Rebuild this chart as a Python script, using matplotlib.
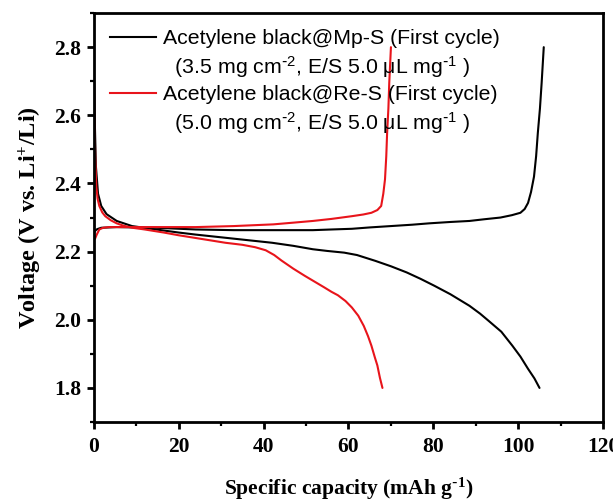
import matplotlib
matplotlib.use("Agg")
import matplotlib.pyplot as plt
from matplotlib.lines import Line2D
from matplotlib.ticker import MultipleLocator

plt.rcParams['mathtext.default'] = 'regular'

# Black: Acetylene black@Mp-S (discharge and charge)
mp_dis_x = [0.0, 0.2, 0.5, 1.0, 1.75, 3.0, 5.4, 9.0, 14.7, 20, 24, 33, 42, 47, 51.6, 55, 59, 62,
            66.3, 70, 73.7, 77, 80.2, 84, 88.5, 91, 93, 96, 98.6, 100.5, 102.3, 103.8, 105]
mp_dis_y = [2.75, 2.60, 2.45, 2.37, 2.334, 2.31, 2.29, 2.275, 2.265, 2.256, 2.25, 2.238, 2.226,
            2.217, 2.207, 2.202, 2.197, 2.19, 2.173, 2.157, 2.139, 2.12, 2.10, 2.075, 2.041,
            2.018, 1.997, 1.965, 1.924, 1.892, 1.856, 1.828, 1.80]
mp_chg_x = [0.0, 0.4, 0.8, 1.75, 5.4, 14.7, 24, 33, 42, 51.6, 56, 60.8, 65, 70, 75, 79, 84, 88.5,
            92, 95.8, 98.5, 100.5, 101.5, 102.3, 103, 103.7, 104.2, 104.6, 105.1, 105.5, 106]
mp_chg_y = [2.255, 2.262, 2.266, 2.27, 2.272, 2.27, 2.265, 2.263, 2.263, 2.263, 2.265, 2.267,
            2.271, 2.275, 2.279, 2.283, 2.287, 2.29, 2.295, 2.30, 2.307, 2.314, 2.325, 2.343,
            2.375, 2.42, 2.48, 2.548, 2.62, 2.695, 2.80]

# Red: Acetylene black@Re-S (discharge and charge)
re_dis_x = [0.0, 0.15, 0.35, 0.6, 0.9, 1.3, 2.0, 2.7, 4.0, 5.4, 7.0, 9.1, 12, 16.5, 20, 24, 28,
            31, 35, 38, 40.5, 42.5, 44.2, 47, 49.7, 52, 54.3, 56, 57.5, 59.3, 60.8, 62.3, 63.6,
            64.6, 65.4, 66.2, 66.8, 67.4, 68]
re_dis_y = [2.743, 2.60, 2.47, 2.39, 2.355, 2.334, 2.315, 2.304, 2.292, 2.283, 2.276, 2.27,
            2.265, 2.256, 2.248, 2.24, 2.232, 2.226, 2.22, 2.213, 2.204, 2.19, 2.174, 2.15,
            2.129, 2.112, 2.095, 2.082, 2.072, 2.055, 2.036, 2.012, 1.982, 1.952, 1.924, 1.89,
            1.866, 1.83, 1.80]
re_chg_x = [0.0, 0.3, 0.7, 1.3, 2.2, 3.6, 14.7, 24, 33, 42.3, 47, 51.6, 56, 60.8, 63.5, 65.4,
            66.8, 67.7, 68.2, 68.6, 68.9, 69.1, 69.4, 69.6, 70]
re_chg_y = [2.245, 2.238, 2.25, 2.265, 2.27, 2.272, 2.272, 2.272, 2.275, 2.28, 2.285, 2.29,
            2.296, 2.304, 2.309, 2.314, 2.322, 2.334, 2.37, 2.412, 2.48, 2.548, 2.62, 2.695, 2.80]

x_ticks = [0, 20, 40, 60, 80, 100, 120]
y_ticks = [1.8, 2.0, 2.2, 2.4, 2.6, 2.8]
y_tick_labels = ['1.8', '2.0', '2.2', '2.4', '2.6', '2.8']

legend_labels = ["Acetylene black@Mp-S (First cycle)",
                 "  (3.5 mg cm$^{\\text{-}2}$, E/S 5.0 μL mg$^{\\text{-}1}$ )",
                 "Acetylene black@Re-S (First cycle)",
                 "  (5.0 mg cm$^{\\text{-}2}$, E/S 5.0 μL mg$^{\\text{-}1}$ )"]

RED = '#e8141b'

fig = plt.figure(figsize=(6.13, 5.03), dpi=100)
ax = fig.add_axes([0.153, 0.161, 0.831, 0.813])

lw = 1.5
kw = dict(lw=lw, solid_joinstyle='round', solid_capstyle='round')
ax.plot(mp_dis_x, mp_dis_y, color='black', **kw)
ax.plot(mp_chg_x, mp_chg_y, color='black', **kw)
ax.plot(re_dis_x, re_dis_y, color=RED, **kw)
ax.plot(re_chg_x, re_chg_y, color=RED, **kw)

ax.set_xlim(0, 120)
ax.set_ylim(1.7, 2.9)
ax.set_xticks(x_ticks)
ax.xaxis.set_minor_locator(MultipleLocator(10))
ax.set_yticks(y_ticks)
ax.set_yticklabels(y_tick_labels)
ax.yaxis.set_minor_locator(MultipleLocator(0.1))

for s in ax.spines.values():
    s.set_linewidth(2.0)
ax.tick_params(which='major', direction='out', length=5, width=2.0,
               top=False, right=False, labelsize=15.5, pad=4)
ax.tick_params(which='minor', direction='out', length=3, width=1.6,
               top=False, right=False)
ax.tick_params(axis='x', which='major', pad=6)
for lab in ax.get_xticklabels() + ax.get_yticklabels():
    lab.set_fontfamily('Liberation Serif')
    lab.set_fontweight('bold')

ax.set_xlabel("Specific capacity (mAh g$^{\\text{-}1}$)", fontsize=15.5, fontweight='bold',
              family='Liberation Serif', labelpad=13)
ax.set_ylabel("Voltage (V vs. Li$^{+}$/Li)", fontsize=17.5, fontweight='bold',
              family='Liberation Serif', labelpad=7)

handles = [Line2D([], [], color='black', lw=lw),
           Line2D([], [], color='none'),
           Line2D([], [], color=RED, lw=lw),
           Line2D([], [], color='none')]
ax.legend(handles, legend_labels, loc='upper left', bbox_to_anchor=(0.0, 1.0),
          frameon=False, prop={'family': 'Liberation Sans', 'size': 15.3},
          handlelength=2.2, handletextpad=0.3, labelspacing=0.27, borderaxespad=0.35)

fig.savefig("out.png", dpi=100)
